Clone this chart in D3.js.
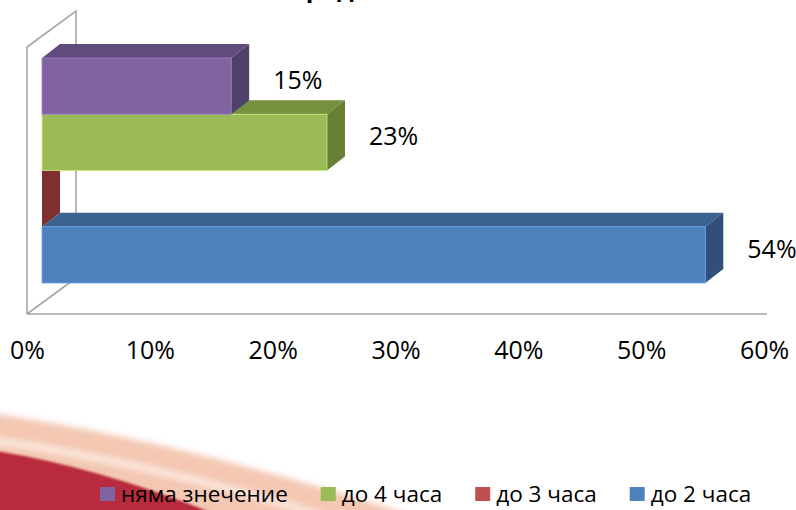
<!DOCTYPE html>
<html><head><meta charset="utf-8">
<script src="https://cdn.jsdelivr.net/npm/d3@7"></script>
<style>
html,body{margin:0;padding:0;background:#fff;overflow:hidden}
svg{display:block}
text{font-family:"Open Sans","Noto Sans",sans-serif;fill:#000}
</style></head>
<body>
<svg id="c" width="796" height="510"></svg>
<script>
// ---- data ----
const title = "Продължителност";
const series = ["няма знечение", "до 4 часа", "до 3 часа", "до 2 часа"];
const values = [15.4, 23.2, 0, 54];
const valueLabels = ["15%", "23%", "", "54%"];
const tickValues = [0, 10, 20, 30, 40, 50, 60];
const tickLabels = ["0%", "10%", "20%", "30%", "40%", "50%", "60%"];
const frontColors = ["#8064A2", "#9BBB59", "#C0504D", "#4F81BD"];
const topColors   = ["#604B7C", "#77923F", "#923C3A", "#3C6390"];
const sideColors  = ["#51416A", "#687F37", "#7E2F2E", "#314F78"];

const svg = d3.select("#c");

// ---- background decoration ----
const defs = svg.append("defs");
defs.append("filter").attr("id","blur").attr("x","-20%").attr("y","-20%").attr("width","140%").attr("height","140%")
  .append("feGaussianBlur").attr("stdDeviation", 3);
defs.append("filter").attr("id","blur2").attr("x","-20%").attr("y","-20%").attr("width","140%").attr("height","140%")
  .append("feGaussianBlur").attr("stdDeviation", 1.2);
const deco = svg.append("g");
deco.append("path").attr("d","M-10,413 Q180,440 420,518 L-10,518 Z").attr("fill","#F2C1AA").attr("filter","url(#blur)").attr("opacity",0.9);
deco.append("path").attr("d","M-10,440 Q150,462 330,518").attr("fill","none").attr("stroke","#FCEAE1").attr("stroke-width",7).attr("filter","url(#blur)");
deco.append("path").attr("d","M-10,450 Q95,466 210,512 L-10,512 Z").attr("fill","#B8293C").attr("filter","url(#blur2)");

// ---- scales ----
const x = d3.scaleLinear().domain([0, 60]).range([27, 764]);   // front plane of walls
const wallTop = 47, wallBottom = 314;
const wallDepth = {dx: 49, dy: -36};
const barOff = {dx: 15, dy: -11};                                 // bar front plane offset
const barDepth = {dx: 18, dy: -14};
const y = d3.scaleBand().domain(series).range([wallTop + 22, wallBottom - 20]).padding(0);
const xb = v => x(v) + barOff.dx;
const yb = s => y(s) + barOff.dy;

// ---- title (clipped at top, as in the original) ----
svg.append("text").attr("x", 409).attr("y", -3).attr("text-anchor","middle")
  .attr("font-weight","bold").attr("font-size", 25).text(title);

// ---- walls ----
const wall = svg.append("g").attr("fill","none").attr("stroke","#A6A6A6").attr("stroke-width",1.6);
wall.append("path").attr("d", d3.line()([
  [x(0), wallBottom], [x(0), wallTop], [x(0)+wallDepth.dx, wallTop+wallDepth.dy],
  [x(0)+wallDepth.dx, wallBottom+wallDepth.dy], [x(0), wallBottom]
]));
wall.append("line").attr("x1", x(0)).attr("x2", x(60)+3).attr("y1", wallBottom).attr("y2", wallBottom);

// ---- bars (drawn bottom first) ----
const h = y.bandwidth();
const order = d3.range(series.length).reverse();
const bars = svg.append("g");
order.forEach(i => {
  const s = series[i], v = values[i];
  const x0 = xb(0), x1 = xb(v), y0 = yb(s);
  const g = bars.append("g");
  g.append("path").attr("d", d3.line()([[x0,y0],[x0+barDepth.dx,y0+barDepth.dy],[x1+barDepth.dx,y0+barDepth.dy],[x1,y0]]) + "Z")
    .attr("fill", topColors[i]);
  g.append("path").attr("d", d3.line()([[x1,y0],[x1+barDepth.dx,y0+barDepth.dy],[x1+barDepth.dx,y0+h+barDepth.dy],[x1,y0+h]]) + "Z")
    .attr("fill", sideColors[i]);
  if (v > 0) {
    g.append("rect").attr("x", x0).attr("y", y0).attr("width", x1 - x0).attr("height", h)
      .attr("fill", frontColors[i]).attr("stroke", d3.color(frontColors[i]).brighter(0.7)).attr("stroke-width", 0.8);
  }
});

// ---- value labels ----
svg.append("g").selectAll("text").data(series).join("text")
  .attr("x", (s,i) => xb(values[i]) + barDepth.dx + 24)
  .attr("y", (s,i) => yb(s) + h/2 + 3)
  .attr("font-size", 25)
  .text((s,i) => valueLabels[i]);

// ---- axis tick labels ----
const axis = d3.axisBottom(x).tickValues(tickValues).tickFormat((d,i) => tickLabels[i]).tickSize(0).tickPadding(0);
const ag = svg.append("g").attr("transform", `translate(0,${wallBottom + 27})`).call(axis);
ag.select(".domain").remove();
ag.selectAll("text").attr("font-size", 25).attr("font-family", "'Open Sans'").attr("fill","#000").attr("dy","0.71em");

// ---- legend ----
const leg = svg.append("g").attr("transform","translate(100,487)");
let cx = 0;
series.forEach((s, i) => {
  const it = leg.append("g").attr("transform", `translate(${cx},0)`);
  it.append("rect").attr("width", 15).attr("height", 14).attr("fill", frontColors[i]);
  const t = it.append("text").attr("x", 21).attr("y", 15).attr("font-size", 22.5).text(s);
  cx += 21 + t.node().getComputedTextLength() + 33;
});
</script>
</body></html>
